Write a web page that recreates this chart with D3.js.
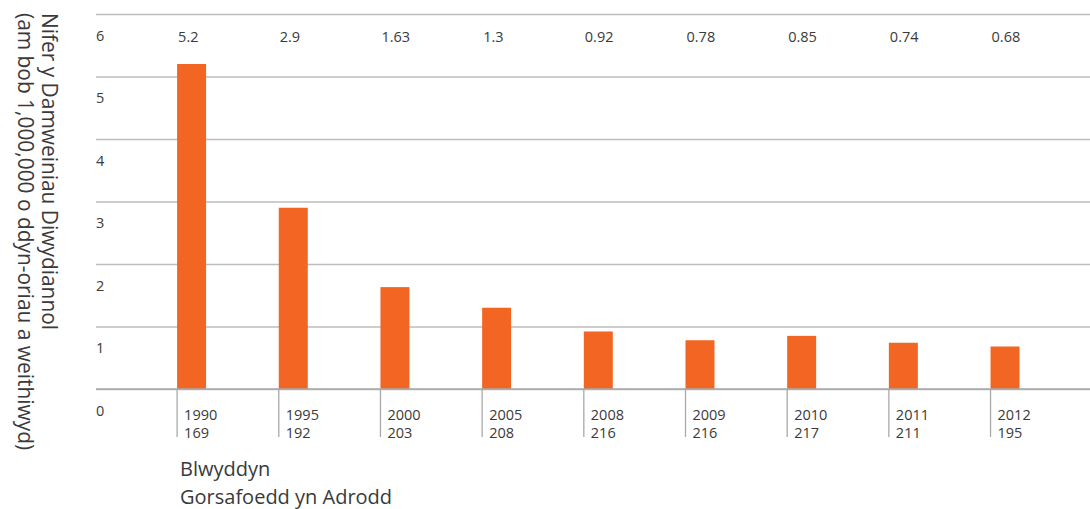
<!DOCTYPE html>
<html>
<head>
<meta charset="utf-8">
<script src="https://cdn.jsdelivr.net/npm/d3@7"></script>
<style>
  html, body { margin: 0; padding: 0; background: #ffffff; }
  svg { display: block; font-family: "Open Sans", "Noto Sans", sans-serif; }
</style>
</head>
<body>
<svg id="chart" width="1090" height="509"></svg>
<script>
// Industrial accident rate per year, with the number of reporting stations
const years = ["1990", "1995", "2000", "2005", "2008", "2009", "2010", "2011", "2012"];
const stations = [169, 192, 203, 208, 216, 216, 217, 211, 195];
const rates = [5.2, 2.9, 1.63, 1.3, 0.92, 0.78, 0.85, 0.74, 0.68];
const rateLabels = ["5.2", "2.9", "1.63", "1.3", "0.92", "0.78", "0.85", "0.74", "0.68"];
const yTicks = [0, 1, 2, 3, 4, 5, 6];
const yTitle = ["Nifer y Damweiniau Diwydiannol", "(am bob 1,000,000 o ddyn-oriau a weithiwyd)"];
const xTitle = ["Blwyddyn", "Gorsafoedd yn Adrodd"];

const W = 1090, H = 509;
const gridLeft = 96, gridRight = 1090;
const plotTop = 14, plotBottom = 389;
const textColor = "#3a3a3a";
const gridColor = "#bdbdbd";
const barColor = "#f26522";

const svg = d3.select("#chart");

const y = d3.scaleLinear().domain([0, 6]).range([plotBottom, plotTop]);
const step = 101.68;
const x = d3.scaleBand()
  .domain(years)
  .range([177.1, 177.1 + step * years.length])
  .paddingInner(0)
  .paddingOuter(0);
const barW = x.bandwidth() * 0.285;

// Horizontal gridlines with their labels sitting just below each line
const yAxis = d3.axisRight(y)
  .tickValues(yTicks)
  .tickSize(gridRight - gridLeft)
  .tickFormat(d3.format("d"));

const yg = svg.append("g")
  .attr("transform", `translate(${gridLeft},0)`)
  .call(yAxis);
yg.select(".domain").remove();
yg.selectAll(".tick line")
  .attr("stroke", gridColor)
  .attr("stroke-width", 1.3);
yg.selectAll(".tick text")
  .attr("x", 0)
  .attr("dy", 26)
  .attr("text-anchor", "start")
  .attr("fill", textColor)
  .style("font-size", "14.5px")
  .style("font-family", "\"Open Sans\", sans-serif");

// Bars
svg.append("g")
  .selectAll("rect")
  .data(years)
  .join("rect")
  .attr("x", d => x(d))
  .attr("y", (d, i) => y(rates[i]))
  .attr("width", barW)
  .attr("height", (d, i) => y(0) - y(rates[i]))
  .attr("fill", barColor);

// Value row along the top
svg.append("g")
  .selectAll("text")
  .data(years)
  .join("text")
  .attr("x", d => x(d) + 1)
  .attr("y", y(6) + 28)
  .attr("fill", textColor)
  .style("font-size", "14.5px")
  .text((d, i) => rateLabels[i]);

// Baseline redrawn over the bars
svg.append("line")
  .attr("x1", gridLeft).attr("x2", gridRight)
  .attr("y1", y(0)).attr("y2", y(0))
  .attr("stroke", "#a9a9a9")
  .attr("stroke-width", 1.3);

// Category ticks: year and station count beside a vertical rule
const cat = svg.append("g")
  .selectAll("g")
  .data(years)
  .join("g")
  .attr("transform", d => `translate(${x(d)},${y(0)})`);

cat.append("line")
  .attr("x1", 0).attr("x2", 0)
  .attr("y1", 0).attr("y2", 48)
  .attr("stroke", "#a9a9a9")
  .attr("stroke-width", 1.3);

cat.append("text")
  .attr("x", 7)
  .attr("y", 30.5)
  .attr("fill", textColor)
  .style("font-size", "14.5px")
  .text(d => d);

cat.append("text")
  .attr("x", 7)
  .attr("y", 49)
  .attr("fill", textColor)
  .style("font-size", "14.5px")
  .text((d, i) => stations[i]);

// Axis titles
const yt = svg.append("text")
  .attr("transform", "translate(42,13) rotate(90)")
  .attr("fill", textColor)
  .style("font-size", "20.9px");
yt.selectAll("tspan")
  .data(yTitle)
  .join("tspan")
  .attr("x", 0)
  .attr("dy", (d, i) => i === 0 ? 0 : 24)
  .text(d => d);

const xt = svg.append("text")
  .attr("fill", textColor)
  .style("font-size", "20px");
xt.selectAll("tspan")
  .data(xTitle)
  .join("tspan")
  .attr("x", 180)
  .attr("y", (d, i) => i === 0 ? 476.3 : 503.8)
  .text(d => d);
</script>
</body>
</html>
